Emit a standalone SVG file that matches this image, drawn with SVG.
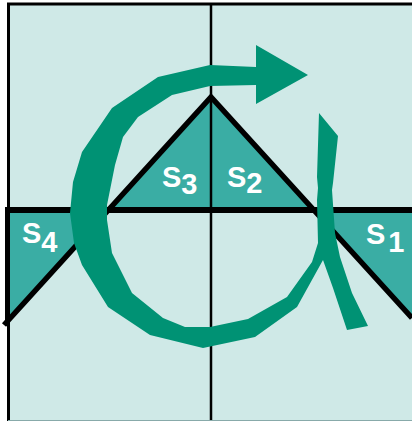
<svg xmlns="http://www.w3.org/2000/svg" width="412" height="421" viewBox="0 0 412 421">
<style>
.tri{fill:#3AADA4;stroke:none}
.ln{stroke:#000;fill:none}
.lbl{font-family:"Liberation Sans",Arial,sans-serif;font-weight:bold;font-size:29px;fill:#fff}
.arrow{fill:#009274;stroke:none}
</style>
<rect x="8" y="4" width="404" height="417" fill="#CFE9E7"/>
<g id="frame">
<line class="ln" x1="211" y1="4" x2="211" y2="421" stroke-width="2.5"/>
<line class="ln" x1="7" y1="4" x2="412" y2="4" stroke-width="3"/>
<line class="ln" x1="8.5" y1="3" x2="8.5" y2="421" stroke-width="3"/>
<line x1="8" y1="420.5" x2="412" y2="420.5" stroke="#8aa" stroke-width="1"/>
</g>
<g id="S3"><polygon class="tri" points="211,97 108,210 211,210"/></g>
<g id="S2"><polygon class="tri" points="211,97 315,210 211,210"/></g>
<g id="S4"><polygon class="tri" points="7,210 108,210 7,320"/></g>
<g id="S1"><polygon class="tri" points="315,210 412,210 412,317"/></g>
<g id="lines">
<line class="ln" x1="211" y1="97" x2="211" y2="210" stroke-width="2.5"/>
<line class="ln" x1="5" y1="210" x2="412" y2="210" stroke-width="6"/>
<polyline class="ln" points="4,325 211,97 412,318" stroke-width="5.5"/>
<line class="ln" x1="7.5" y1="207" x2="7.5" y2="326" stroke-width="5"/>
</g>
<g id="labels">
<text class="lbl" x="162" y="187">S<tspan dy="7">3</tspan></text>
<text class="lbl" x="227" y="187">S<tspan dy="6">2</tspan></text>
<text class="lbl" x="22" y="243">S<tspan dy="9">4</tspan></text>
<text class="lbl" x="366" y="244">S<tspan dx="3" dy="8">1</tspan></text>
</g>
<g id="connectors">
<polygon class="arrow" points="308,75 256,104 256,85 210,86 172,95 138,117 123,137 115,165 107,205 107,220 112,253 132,293 163,318 185,327 210,327 248,319 287,297 312,262 318,243 317,200 318,188 317,177 319,113 338,136 333,183 332,190 335,233 340,257 352,293 368,326 347,330 333,288 323,260 297,307 255,337 203,348 150,335 108,307 82,265 74,243 70,213 73,182 82,152 112,108 158,77 210,65 256,67 256,45"/>
</g>
</svg>
